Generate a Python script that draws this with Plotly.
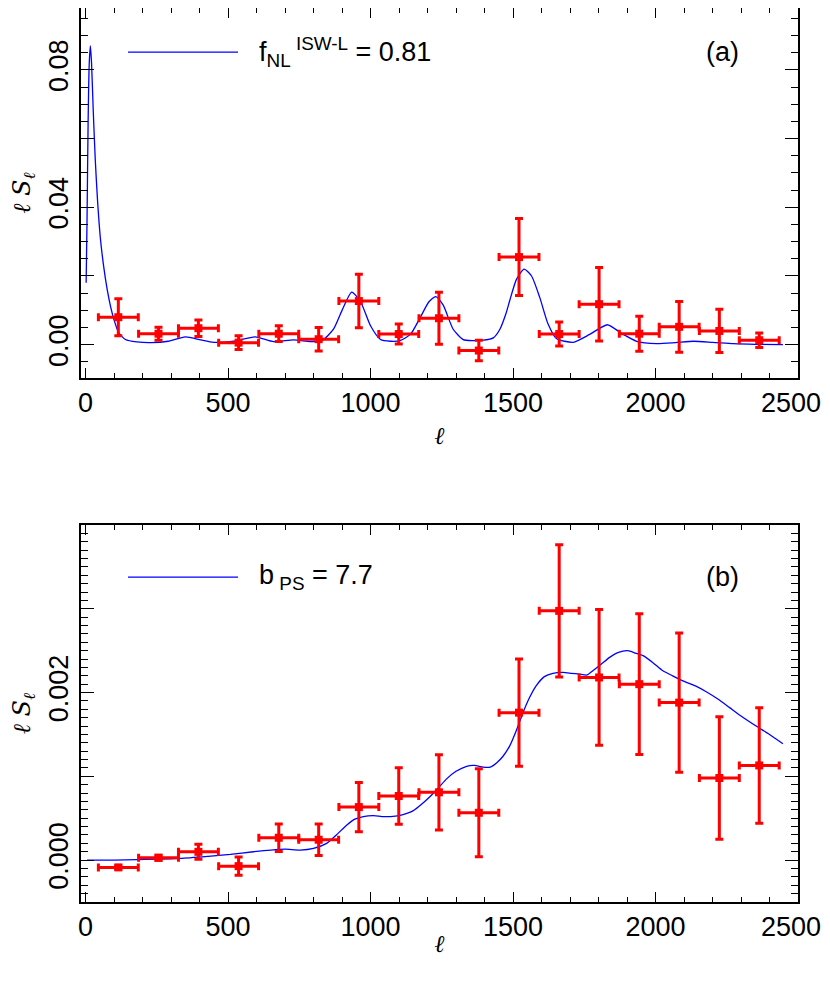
import plotly.graph_objects as go
from plotly.subplots import make_subplots

# binned measurements (bin centres in ell, half-width of each bin)
ell_bins = [115, 256, 396, 537, 678, 818, 959, 1099, 1240, 1380,
            1521, 1662, 1802, 1943, 2083, 2224, 2364]
bin_halfwidth = 70

# panel (a): ISW-lensing
isw_vals = [0.0080, 0.0032, 0.0048, 0.0006, 0.0032, 0.0016, 0.0127, 0.0031, 0.0077,
            -0.0017, 0.0255, 0.0031, 0.0118, 0.0032, 0.0052, 0.0040, 0.0013]
isw_errs = [0.0054, 0.0019, 0.0024, 0.0020, 0.0023, 0.0034, 0.0078, 0.0029, 0.0076,
            0.0030, 0.0112, 0.0035, 0.0107, 0.0051, 0.0074, 0.0063, 0.0021]

isw_model_ell = [2, 5, 9, 13, 17, 21, 27, 34, 42, 52,
                 64, 76, 88, 100, 116, 140, 180, 230, 290, 350,
                 400, 450, 520, 595, 660, 730, 790, 830, 870, 900,
                 934, 965, 1000, 1035, 1070, 1103, 1140, 1175, 1205, 1229,
                 1255, 1290, 1325, 1360, 1395, 1431, 1454, 1475, 1489, 1512,
                 1539, 1565, 1594, 1623, 1652, 1711, 1769, 1831, 1881, 1934,
                 2004, 2070, 2133, 2200, 2273, 2350, 2447]
isw_model = [0.018, 0.035, 0.065, 0.082, 0.087, 0.082, 0.068, 0.054, 0.042, 0.031,
             0.0225, 0.016, 0.011, 0.0072, 0.0035, 0.0015, 0.0008, 0.0006, 0.0010, 0.0023,
             0.0015, 0.0007, 0.0010, 0.0023, 0.0009, 0.0014, 0.0009, 0.0012, 0.0045, 0.0100,
             0.0153, 0.0125, 0.0055, 0.0015, 0.0010, 0.0012, 0.0030, 0.0080, 0.0125, 0.0140,
             0.0115, 0.0045, 0.0015, 0.0012, 0.0013, 0.0020, 0.0045, 0.0090, 0.0130, 0.0190,
             0.0220, 0.0200, 0.0137, 0.0060, 0.0018, 0.0007, 0.0030, 0.0058, 0.0033, 0.0010,
             0.0003, 0.0006, 0.0010, 0.0007, 0.0003, 0.0001, 0.0000]

# panel (b): point sources
ps_vals = [-0.000087, 0.000028, 0.000099, -0.000072, 0.000267, 0.000243, 0.000633, 0.000765, 0.000809,
           0.000565, 0.00176, 0.002975, 0.00218, 0.0021, 0.00188, 0.00098, 0.00113]
ps_errs = [0.00002, 0.00003, 0.00009, 0.00011, 0.000165, 0.000187, 0.000293, 0.000337, 0.00045,
           0.000525, 0.00064, 0.00079, 0.00081, 0.00084, 0.00083, 0.00073, 0.00069]

ps_model_ell = [5, 100, 180, 332, 430, 508, 589, 650, 700, 753,
                800, 846, 880, 917, 945, 975, 1010, 1040, 1070, 1100,
                1130, 1150, 1180, 1209, 1240, 1267, 1300, 1337, 1365, 1395,
                1420, 1442, 1465, 1488, 1512, 1535, 1558, 1581, 1610, 1640,
                1675, 1705, 1733, 1760, 1780, 1810, 1839, 1870, 1903, 1930,
                1956, 1990, 2026, 2060, 2096, 2140, 2178, 2220, 2260, 2300,
                2353, 2400, 2447]
ps_model = [0.0, 0.0, 0.000005, 0.00002, 0.000045, 0.000068, 0.0001, 0.00012, 0.00013, 0.00012,
            0.00014, 0.0002, 0.0003, 0.00042, 0.00049, 0.00052, 0.00053, 0.00052, 0.00052, 0.00053,
            0.00056, 0.00059, 0.00067, 0.00076, 0.00087, 0.00097, 0.00106, 0.00112, 0.00113, 0.00111,
            0.00111, 0.00116, 0.00124, 0.00136, 0.00155, 0.00176, 0.00194, 0.00208, 0.00219, 0.00223,
            0.00224, 0.00223, 0.00222, 0.00221, 0.00226, 0.00234, 0.00242, 0.00248, 0.0025, 0.00247,
            0.00244, 0.00236, 0.00226, 0.0022, 0.00214, 0.00208, 0.00201, 0.00192, 0.00182, 0.00172,
            0.0016, 0.0015, 0.00139]

# tick values; the last x label sits on its own overlay axis so it can be nudged inward
x_ticks = [0, 500, 1000, 1500, 2000]
x_last_tick = [2500]
isw_ticks = [0.0, 0.04, 0.08]
isw_ticktext = ["0.00", "0.04", "0.08"]
isw_extra_ticks = [0.02, 0.06]
ps_ticks = [0.0, 0.002]
ps_ticktext = ["0.000", "0.002"]
ps_extra_ticks = [0.001, 0.003]

RED = "#FF0000"
BLUE = "#0000FF"
tickfont = dict(family="Liberation Sans, Arial", size=27, color="black")
serif = "DejaVu Serif, Liberation Serif"
x_range = [-16, 2500]

fig = make_subplots(rows=2, cols=1, vertical_spacing=0.1)

panels = [(1, isw_model_ell, isw_model, isw_vals, isw_errs),
          (2, ps_model_ell, ps_model, ps_vals, ps_errs)]
for row, mx, my, vals, errs in panels:
    fig.add_trace(go.Scatter(x=mx, y=my, mode="lines",
                             line=dict(color=BLUE, width=1.3, shape="spline", smoothing=0.6),
                             showlegend=False), row=row, col=1)
    fig.add_trace(go.Scatter(x=ell_bins, y=vals, mode="markers",
                             marker=dict(symbol="square", size=8, color=RED),
                             error_x=dict(type="constant", value=bin_halfwidth, color=RED,
                                          thickness=3, width=4),
                             error_y=dict(type="data", array=errs, color=RED,
                                          thickness=3, width=4),
                             showlegend=False), row=row, col=1)

# hidden traces so the overlay axes get drawn
for xa, ya in [("x3", "y"), ("x4", "y2"), ("x", "y3"), ("x2", "y4")]:
    fig.add_trace(go.Scatter(x=[None], y=[None], xaxis=xa, yaxis=ya, mode="markers",
                             hoverinfo="skip", showlegend=False))

xaxis_style = dict(range=x_range, tickvals=x_ticks,
                   ticks="inside", ticklen=10, tickwidth=1.3, tickcolor="black",
                   minor=dict(dtick=100, tick0=0, ticks="inside", ticklen=5, tickwidth=1, tickcolor="black"),
                   showline=True, linecolor="black", linewidth=1.5, mirror="ticks",
                   showgrid=False, zeroline=False, tickfont=tickfont, automargin=False,
                   title=dict(text="<i>ℓ</i>", font=dict(family=serif, size=24, color="black"), standoff=10))
fig.update_layout(xaxis=xaxis_style, xaxis2=xaxis_style)

yaxis_style = dict(ticks="inside", ticklen=13, tickwidth=1.3, tickcolor="black", tickangle=-90,
                   showline=True, linecolor="black", linewidth=1.5, mirror="ticks",
                   showgrid=False, zeroline=False, tickfont=tickfont, tickmode="array",
                   automargin=False,
                   title=dict(text="<i>ℓ S<sub>ℓ</sub></i>", font=dict(family=serif, size=24, color="black"),
                              standoff=17))
fig.update_layout(yaxis=yaxis_style, yaxis2=yaxis_style)

isw_range = [-0.0097, 0.098]
ps_range = [-0.0005, 0.004]
fig.update_layout(
    yaxis=dict(range=isw_range, tickvals=isw_ticks, ticktext=isw_ticktext, domain=[0.5861, 1.0],
               minor=dict(dtick=0.005, tick0=0, ticks="inside", ticklen=7, tickwidth=1, tickcolor="black")),
    yaxis2=dict(range=ps_range, tickvals=ps_ticks, ticktext=ps_ticktext, domain=[0.0, 0.4217],
                minor=dict(dtick=0.0001, tick0=0, ticks="inside", ticklen=7, tickwidth=1, tickcolor="black")),
)

# overlay axes: long unlabelled y ticks, and the nudged last x label
extra = dict(ticks="inside", ticklen=13, tickwidth=1.3, tickcolor="black", showticklabels=False,
             showline=True, linecolor="black", linewidth=1.5, mirror="ticks",
             showgrid=False, zeroline=False, tickmode="array", automargin=False)
last_x = dict(range=x_range, tickvals=x_last_tick, tickmode="array",
              ticks="inside", ticklen=10, tickwidth=1.3, tickcolor="black",
              showline=True, linecolor="black", linewidth=1.5, mirror="ticks",
              showgrid=False, zeroline=False, tickfont=tickfont, ticklabelshift=-7, automargin=False)
fig.update_layout(
    yaxis3=dict(overlaying="y", anchor="x", range=isw_range, tickvals=isw_extra_ticks, **extra),
    yaxis4=dict(overlaying="y2", anchor="x2", range=ps_range, tickvals=ps_extra_ticks, **extra),
    xaxis3=dict(overlaying="x", anchor="y", **last_x),
    xaxis4=dict(overlaying="x2", anchor="y2", **last_x),
)

# legend samples and panel labels
legend_items = [("x domain", "y domain", 0.881, "f<sub>NL</sub><sup> ISW-L</sup> = 0.81", "(a)"),
                ("x2 domain", "y2 domain", 0.862, "b<sub> PS</sub> = 7.7", "(b)")]
for xr, yr, ypos, label, tag in legend_items:
    fig.add_shape(type="line", xref=xr, yref=yr, x0=0.0656, x1=0.219, y0=ypos, y1=ypos,
                  line=dict(color=BLUE, width=1.3))
    fig.add_annotation(xref=xr, yref=yr, x=0.2455, y=ypos, text=label, showarrow=False,
                       xanchor="left", yanchor="middle",
                       font=dict(family="Liberation Sans, Arial", size=27, color="black"))
    fig.add_annotation(xref=xr, yref=yr, x=0.895, y=ypos, text=tag, showarrow=False,
                       xanchor="center", yanchor="middle",
                       font=dict(family="Liberation Sans, Arial", size=27, color="black"))

fig.update_layout(width=814, height=950, plot_bgcolor="white", paper_bgcolor="white",
                  margin=dict(l=73, r=24, t=0, b=56))

fig.write_html("out.html")
